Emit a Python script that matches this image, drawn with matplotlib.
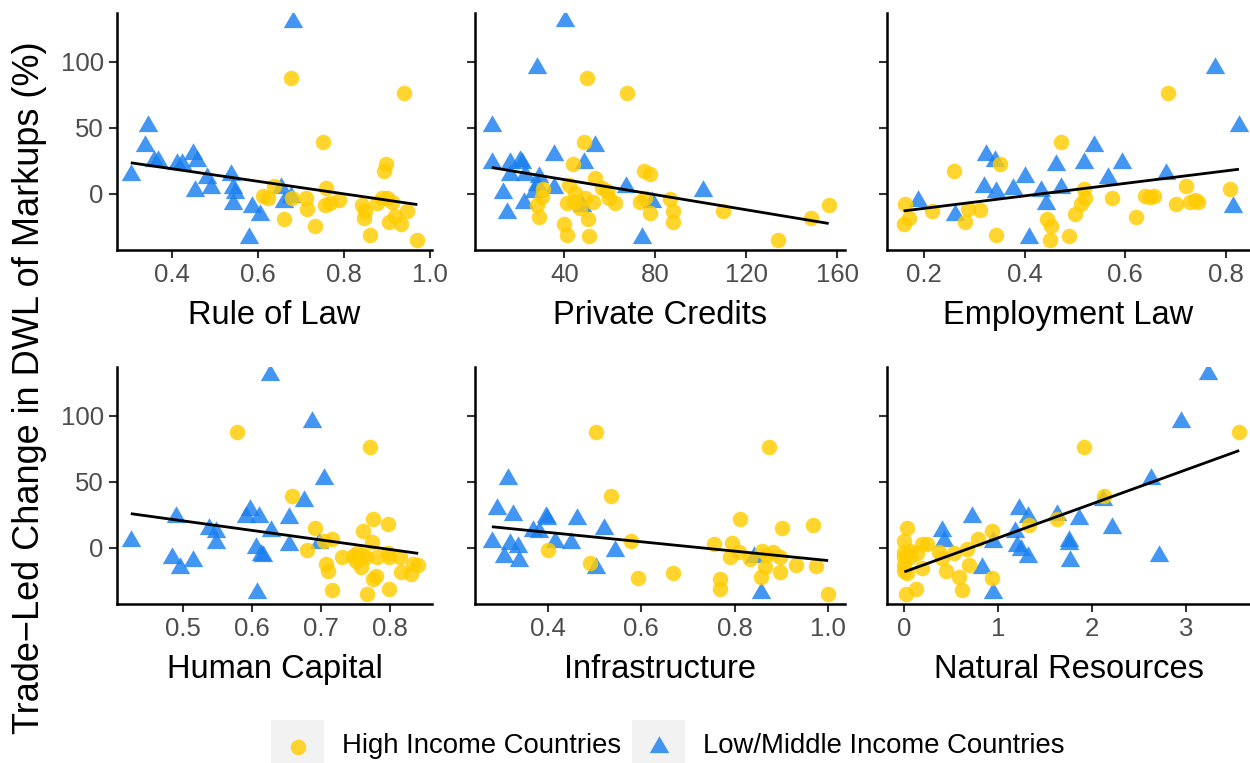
import numpy as np
import matplotlib
matplotlib.use("Agg")
import matplotlib.pyplot as plt
from matplotlib.patches import Rectangle
from matplotlib.ticker import FormatStrFormatter

plt.rcParams["font.family"] = ["Liberation Sans", "DejaVu Sans"]

# ---- data (one list per panel / income group) ----
rol_hi_x = [0.677, 0.941, 0.752, 0.898, 0.893, 0.637, 0.612, 0.623, 0.679, 0.660, 0.713, 0.715, 0.732, 0.759, 0.756,
            0.769, 0.788, 0.842, 0.850, 0.846, 0.862, 0.877, 0.888, 0.900, 0.911, 0.919, 0.906, 0.933, 0.946, 0.971]
rol_hi_y = [88, 76.5, 39.7, 22.5, 17.5, 6, -1.5, -3.3, -3.3, -18.7, -2.8, -11.6, -24, 4.3, -8.4,
            -6.6, -4.6, -8.4, -13, -18.5, -31, -7, -2.8, -2.8, -5.8, -16.7, -21.5, -23, -12.7, -35]
rol_lo_x = [0.681, 0.344, 0.338, 0.305, 0.358, 0.369, 0.412, 0.423, 0.450, 0.458, 0.454, 0.481, 0.492, 0.538, 0.542,
            0.548, 0.542, 0.587, 0.605, 0.579, 0.655, 0.662, 0.677]
rol_lo_y = [130, 51.6, 36, 14.4, 24.6, 25, 23, 23, 30, 24.6, 2.3, 12, 4.3, 14, 4.3,
            0.5, -7.6, -9.6, -16, -33, 4.3, -5.8, -2]

pc_hi_x = [50, 67.6, 48.5, 43.8, 75, 77.9, 53.4, 41.9, 56.6, 58.8, 44.9, 30.6, 30.1, 27.9, 28.7, 41.2, 44.1, 47.1,
           49.3, 52.6, 59.6, 62.5, 39.7, 41.2, 50.4, 50.7, 73.2, 75.7, 77.6, 86.5, 88, 87.8, 110, 134.1, 148.5, 156.3]
pc_hi_y = [87.8, 76.5, 39.2, 22.5, 17.5, 15, 12.4, 6.8, 4.8, 2.5, 0.5, 3.5, -2, -8.4, -17.2, -6.6, -5.8, -10.9,
           -3.3, -5.8, -3.3, -6.6, -23, -31, -19.2, -32, -6.3, -2.8, -14.7, -3.8, -12.7, -21.5, -12.7, -35, -18.5, -8.4]
pc_lo_x = [40.4, 27.9, 8.1, 8.1, 16.2, 20.6, 21.3, 16.2, 22.8, 28.7, 12.9, 14.7, 22.1, 26.5, 27.9, 35.6, 35.3,
           48.5, 53.4, 47.8, 67.2, 78.7, 74.3, 101.2]
pc_lo_y = [131, 95.4, 51.6, 23.3, 23.3, 25.3, 23.3, 14.4, 14.4, 13.2, 1, -14.7, -7, 1.8, 6.8, 29.6, 4.3,
           23.3, 36, -8.9, 5.6, -5.8, -33, 2.5]

el_hi_x = [0.685, 0.472, 0.351, 0.260, 0.518, 0.720, 0.808, 0.520, 0.512, 0.499, 0.573, 0.639, 0.649, 0.657, 0.701,
           0.728, 0.738, 0.745, 0.621, 0.162, 0.169, 0.159, 0.215, 0.288, 0.311, 0.281, 0.342, 0.445, 0.452, 0.450, 0.487]
el_hi_y = [76.5, 39.2, 22.5, 17.5, 3.5, 6.3, 3.5, -3.3, -7.8, -15.4, -3.3, -1.5, -2.5, -1.3, -7.8,
           -5.8, -4.6, -5.8, -17.2, -7.8, -18, -23, -12.9, -11.4, -12.2, -21.5, -31, -19, -24, -35, -32]
el_lo_x = [0.778, 0.826, 0.323, 0.341, 0.538, 0.462, 0.518, 0.594, 0.401, 0.566, 0.681, 0.318, 0.343, 0.376, 0.432,
           0.473, 0.442, 0.187, 0.262, 0.409, 0.815]
el_lo_y = [95.4, 51.6, 29.6, 25.3, 36, 22, 23.3, 23.3, 13.2, 11.9, 15.2, 5, 1.3, 3.5, 2.3,
           4.3, -7.6, -5.3, -16, -33, -9.6]

hc_hi_x = [0.579, 0.771, 0.659, 0.775, 0.798, 0.692, 0.761, 0.716, 0.705, 0.774, 0.680, 0.731, 0.746, 0.753, 0.761,
           0.751, 0.765, 0.782, 0.798, 0.799, 0.814, 0.758, 0.708, 0.710, 0.775, 0.780, 0.716, 0.767, 0.799, 0.816,
           0.830, 0.841, 0.833]
hc_hi_y = [88, 76.6, 39.3, 22, 17.8, 15, 12.7, 6.9, 5.6, 4.3, -1.3, -7.1, -5.8, -3.8, -5,
           -9.6, -7.1, -6.6, -3.8, -7.1, -6.6, -14.7, -12.2, -17.3, -23.1, -21, -32, -34.5, -31.2, -17.8,
           -19.8, -12.7, -12.2]
hc_lo_x = [0.627, 0.687, 0.705, 0.676, 0.425, 0.491, 0.484, 0.496, 0.515, 0.538, 0.548, 0.549, 0.597, 0.592, 0.611,
           0.628, 0.654, 0.606, 0.614, 0.616, 0.654, 0.698, 0.607]
hc_lo_y = [131, 95, 52, 35.5, 5.6, 23.3, -7.6, -15.2, -9.6, 14.5, 12, 3.6, 28.4, 23.3, 23.3,
           13.2, 22.8, 0, -5, -5.8, 2.3, 3.6, -33.8]

inf_hi_x = [0.504, 0.874, 0.536, 0.811, 0.901, 0.968, 0.579, 0.402, 0.490, 0.594, 0.668, 0.757, 0.795, 0.809,
            0.790, 0.833, 0.859, 0.869, 0.883, 0.897, 0.866, 0.857, 0.896, 0.931, 0.974, 0.769, 0.769, 1.0]
inf_hi_y = [88, 76.6, 39.3, 22, 15, 17.5, 5, -1.3, -11.4, -23, -19.3, 3, 3.6, -2.8,
            -7.1, -8.4, -2.5, -5, -3.3, -6.6, -14.7, -21.6, -18, -12.7, -13.5, -23.6, -31.2, -35]
inf_lo_x = [0.316, 0.291, 0.327, 0.397, 0.399, 0.464, 0.520, 0.369, 0.381, 0.281, 0.320, 0.336, 0.416, 0.450,
            0.306, 0.338, 0.545, 0.504, 0.841, 0.857]
inf_lo_y = [52, 29.7, 25.1, 23.3, 22, 22, 14.5, 13.2, 12, 4.3, 3, 1, 4.3, 3.6,
            -7.1, -9.6, -2, -15.2, -6.6, -33.8]

nr_hi_x = [3.57, 1.91, 2.13, 1.63, 1.33, 0.93, 0.03, 0.0, 0.19, 0.24, 0.79, 0.67, 0.53, 0.37, 0.0, 0.06,
           0.13, 0.0, 0.06, 0.40, 0.0, 0.19, 0.03, 0.0, 0.44, 0.69, 0.58, 0.93, 0.61, 0.12, 0.02]
nr_hi_y = [88, 76.6, 39.3, 22, 17.5, 12.7, 15, 5.6, 3, 3, 6.9, -0.8, -4, -3.3, -3.3, -2,
           -4, -7.1, -7.1, -7.9, -12.9, -15.2, -19.3, -17.3, -17.3, -12.9, -21.8, -23, -32, -31.2, -35]
nr_lo_x = [3.24, 2.95, 2.63, 2.12, 2.21, 2.71, 1.22, 1.32, 1.63, 1.86, 0.72, 0.40, 0.42, 1.18, 0.95, 1.20,
           1.24, 1.32, 1.76, 1.75, 1.77, 0.83, 0.94]
nr_lo_y = [131.7, 95.7, 52, 36, 15, -5.8, 29.7, 23.3, 25.1, 22, 23.3, 13.2, 5.6, 12, 4.3, 1.8,
           -1.5, -7.1, 5, 3, -9.6, -15.2, -33.8]

panel_titles = ["Rule of Law", "Private Credits", "Employment Law",
                "Human Capital", "Infrastructure", "Natural Resources"]
panel_data = [(rol_hi_x, rol_hi_y, rol_lo_x, rol_lo_y),
              (pc_hi_x, pc_hi_y, pc_lo_x, pc_lo_y),
              (el_hi_x, el_hi_y, el_lo_x, el_lo_y),
              (hc_hi_x, hc_hi_y, hc_lo_x, hc_lo_y),
              (inf_hi_x, inf_hi_y, inf_lo_x, inf_lo_y),
              (nr_hi_x, nr_hi_y, nr_lo_x, nr_lo_y)]
panel_xticks = [[0.4, 0.6, 0.8, 1.0], [40, 80, 120, 160], [0.2, 0.4, 0.6, 0.8],
                [0.5, 0.6, 0.7, 0.8], [0.4, 0.6, 0.8, 1.0], [0, 1, 2, 3]]
panel_xlims = [(0.273, 1.005), (0.7, 163.5), (0.126, 0.848),
               (0.405, 0.861), (0.245, 1.036), (-0.185, 3.685)]
panel_xfmt = ["%.1f", "%d", "%.1f", "%.1f", "%.1f", "%d"]
yticks = [0, 50, 100]
legend_labels = ["High Income Countries", "Low/Middle Income Countries"]

# ---- style ----
HI_COLOR = "#FFCC00"
LO_COLOR = "#1A7FF0"
ALPHA = 0.82
TRI = [(0, 1), (-0.866, -0.5), (0.866, -0.5)]   # equilateral triangle, centroid at 0
CIRCLE_S = 125
TRI_S = 262

W, H = 1250, 763
fig = plt.figure(figsize=(W / 100, H / 100), dpi=100)

# panel boxes in pixels: (left, top, right, bottom)
cols = [(117, 432), (475, 845), (887, 1250)]
rows = [(13, 250), (367, 604)]

for i, title in enumerate(panel_titles):
    r, c = divmod(i, 3)
    l, rr = cols[c]
    t, b = rows[r]
    ax = fig.add_axes([l / W, 1 - b / H, (rr - l) / W, (b - t) / H])
    hx, hy, lx, ly = panel_data[i]

    ax.scatter(lx, ly, s=TRI_S, marker=TRI, color=LO_COLOR, alpha=ALPHA, linewidths=0, zorder=2)
    ax.scatter(hx, hy, s=CIRCLE_S, marker="o", color=HI_COLOR, alpha=ALPHA, linewidths=0, zorder=2)

    # pooled OLS line, as geom_smooth(method = "lm", se = FALSE)
    ax_x = np.array(hx + lx, dtype=float)
    ax_y = np.array(hy + ly, dtype=float)
    slope, icpt = np.polyfit(ax_x, ax_y, 1)
    xs = np.array([ax_x.min(), ax_x.max()])
    ax.plot(xs, icpt + slope * xs, color="black", lw=2.0, zorder=3, solid_capstyle="butt")

    ax.set_xlim(*panel_xlims[i])
    ax.set_ylim(-42.4, 137)
    ax.set_xticks(panel_xticks[i])
    ax.xaxis.set_major_formatter(FormatStrFormatter(panel_xfmt[i]))
    ax.set_yticks(yticks)
    if c != 0:
        ax.set_yticklabels([])

    for side in ["top", "right"]:
        ax.spines[side].set_visible(False)
    for side in ["left", "bottom"]:
        ax.spines[side].set_linewidth(1.8)
        ax.spines[side].set_color("black")
    ax.tick_params(length=5.5, width=1.5, color="#333333", labelsize=18.5,
                   labelcolor="#4D4D4D", pad=4)
    ax.set_xlabel(title, fontsize=23.5, color="black", labelpad=9)
    ax.set_facecolor("white")

fig.text(0.024, 0.4915, "Trade\u2212Led Change in DWL of Markups (%)", rotation=90,
         ha="center", va="center", fontsize=26)

# ---- legend at bottom (grey key boxes like ggplot) ----
key_left = [271, 632]
text_left = [342, 703]
key_size = 53
key_top = 720
for j, lab in enumerate(legend_labels):
    kax = fig.add_axes([key_left[j] / W, 1 - (key_top + key_size) / H, key_size / W, key_size / H])
    kax.set_xlim(0, 1)
    kax.set_ylim(0, 1)
    kax.axis("off")
    kax.add_patch(Rectangle((0, 0), 1, 1, facecolor="#F2F2F2", edgecolor="none"))
    if j == 0:
        kax.scatter([0.5], [0.5], s=CIRCLE_S, marker="o", color=HI_COLOR, alpha=ALPHA, linewidths=0)
    else:
        kax.scatter([0.5], [0.5], s=TRI_S, marker=TRI, color=LO_COLOR, alpha=ALPHA, linewidths=0)
    fig.text(text_left[j] / W, 1 - 746 / H, lab, ha="left", va="center", fontsize=19.8)

fig.savefig("out.png", dpi=100)
